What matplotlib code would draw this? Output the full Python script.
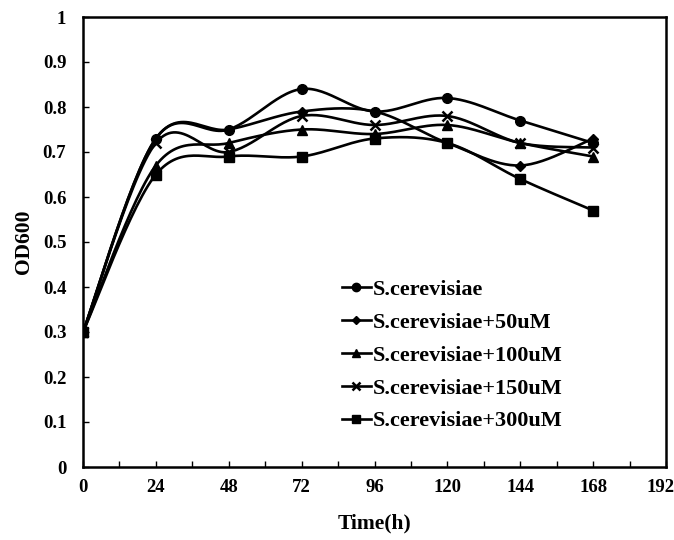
import numpy as np
import matplotlib
matplotlib.use("Agg")
import matplotlib.pyplot as plt
import matplotlib.transforms as mtransforms
from matplotlib.ticker import MultipleLocator

plt.rcParams["font.family"] = ["Liberation Serif", "DejaVu Serif"]
plt.rcParams["font.weight"] = "bold"

# data
hours = [0, 24, 48, 72, 96, 120, 144, 168]
od_ctrl = [0.30, 0.73, 0.75, 0.84, 0.79, 0.82, 0.77, 0.72]
od_50 = [0.30, 0.73, 0.75, 0.79, 0.79, 0.72, 0.67, 0.73]
od_100 = [0.30, 0.67, 0.72, 0.75, 0.74, 0.76, 0.72, 0.69]
od_150 = [0.30, 0.72, 0.70, 0.78, 0.76, 0.78, 0.72, 0.71]
od_300 = [0.30, 0.65, 0.69, 0.69, 0.73, 0.72, 0.64, 0.57]

labels = ["S.cerevisiae", "S.cerevisiae+50uM", "S.cerevisiae+100uM",
          "S.cerevisiae+150uM", "S.cerevisiae+300uM"]
series = [od_ctrl, od_50, od_100, od_150, od_300]
markers = ["o", "D", "^", "x", "s"]
msizes = [7, 5.5, 6.5, 6.5, 6.5]
yticks = [0, 0.1, 0.2, 0.3, 0.4, 0.5, 0.6, 0.7, 0.8, 0.9, 1]
ytick_labels = ["0", "0.1", "0.2", "0.3", "0.4", "0.5", "0.6", "0.7", "0.8", "0.9", "1"]


def smooth(x, y, n=30):
    """Excel-like smoothed line (Catmull-Rom through the points)."""
    x = np.asarray(x, float)
    y = np.asarray(y, float)
    px = np.concatenate([[x[0]], x, [x[-1]]])
    py = np.concatenate([[y[0]], y, [y[-1]]])
    xs, ys = [], []
    for i in range(1, len(px) - 2):
        p0, p1, p2, p3 = (np.array([px[j], py[j]]) for j in (i - 1, i, i + 1, i + 2))
        c1 = p1 + (p2 - p0) / 6
        c2 = p2 - (p3 - p1) / 6
        t = np.linspace(0, 1, n)[:, None]
        b = ((1 - t) ** 3) * p1 + 3 * ((1 - t) ** 2) * t * c1 + 3 * (1 - t) * t ** 2 * c2 + t ** 3 * p2
        xs.extend(b[:, 0])
        ys.extend(b[:, 1])
    return np.array(xs), np.array(ys)


fig = plt.figure(figsize=(6.74, 5.4), dpi=100)
ax = fig.add_axes([83 / 674, 73 / 540, 583 / 674, 450 / 540])

for vals, lab, mk, ms in zip(series, labels, markers, msizes):
    sx, sy = smooth(hours, vals)
    ax.plot(sx, sy, color="black", lw=1.9)
    ax.plot(hours, vals, linestyle="none", marker=mk, ms=ms, color="black",
            markeredgewidth=1.8 if mk == "x" else 1)
    ax.plot([], [], color="black", lw=1.9, marker=mk, ms=ms - 1, label=lab,
            markeredgewidth=1.8 if mk == "x" else 1)

ax.set_xlim(0, 192)
ax.set_ylim(0, 1)
ax.set_xticks(range(0, 193, 24))
ax.xaxis.set_minor_locator(MultipleLocator(12))
ax.set_yticks(yticks)
ax.set_yticklabels(ytick_labels)
ax.tick_params(axis="both", which="both", direction="in", length=4, width=1,
               labelsize=13.5)
ax.tick_params(axis="x", pad=9)
ax.tick_params(axis="y", pad=12)
for s in ax.spines.values():
    s.set_linewidth(1.8)

# keep the last x label inside the canvas
fig.canvas.draw()
last = ax.get_xticklabels()[-1]
last.set_transform(last.get_transform() +
                   mtransforms.ScaledTranslation(-6 / 100, 0, fig.dpi_scale_trans))

ax.set_xlabel("Time(h)", fontsize=15.5, fontweight="bold", labelpad=12)
ax.set_ylabel("OD600", fontsize=15.5, fontweight="bold", labelpad=6)

ax.legend(loc="upper left", bbox_to_anchor=(0.429, 0.436), frameon=False,
          fontsize=16, handlelength=1.3, handletextpad=0.1,
          labelspacing=0.55, borderaxespad=0)

fig.savefig("out.png", dpi=100)
